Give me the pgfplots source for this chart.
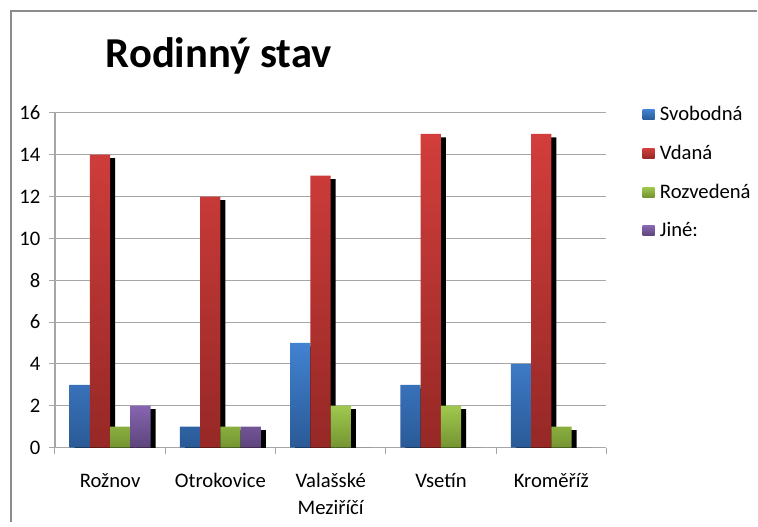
\documentclass[border=0pt]{standalone}
\usepackage{fontspec}
\setmainfont{Carlito}
\usepackage{pgfplots}
\pgfplotsset{compat=1.18}

\definecolor{blueT}{RGB}{66,130,210}
\definecolor{blueB}{RGB}{42,90,150}
\definecolor{redT}{RGB}{210,62,60}
\definecolor{redB}{RGB}{150,40,38}
\definecolor{greenT}{RGB}{160,200,78}
\definecolor{greenB}{RGB}{116,148,50}
\definecolor{purT}{RGB}{134,102,176}
\definecolor{purB}{RGB}{92,68,124}
\definecolor{gridgray}{RGB}{166,166,166}
\definecolor{framegray}{RGB}{140,140,140}

\begin{document}
\begin{tikzpicture}
\path (0pt,0pt) rectangle (568.5pt,391.5pt);
\draw[framegray, line width=1.1pt] (8.25pt,0pt) -- (8.25pt,383.25pt) -- (568.5pt,383.25pt);
\node[anchor=base, font=\bfseries\fontsize{32}{38}\selectfont, inner sep=0pt] at (164.25pt,340.5pt) {Rodinný stav};
\begin{axis}[
  at={(41.25pt,55.5pt)}, anchor=south west,
  scale only axis, width=414pt, height=251.25pt,
  xmin=-0.5, xmax=4.5, ymin=0, ymax=16,
  ytick={0,2,...,16},
  xtick={0,1,2,3,4},
  xticklabels={Rožnov, Otrokovice, {\begin{tabular}[t]{@{}c@{}}Valašské\\Meziříčí\end{tabular}}, Vsetín, Kroměříž},
  xticklabel style={anchor=base, yshift=-25.5pt},
  yticklabel style={xshift=-3pt},
  minor xtick={-0.5,0.5,1.5,2.5,3.5,4.5},
  major x tick style={draw=none},
  tick align=outside,
  major tick length=4.5pt, minor tick length=5pt,
  tick style={gridgray, line width=0.75pt},
  separate axis lines,
  axis x line*=bottom, axis y line*=left,
  axis line style={gridgray, line width=0.9pt, -},
  ymajorgrids, grid style={gridgray, line width=0.75pt},
  ticklabel style={font=\fontsize{15.5}{20}\selectfont},
  /pgf/number format/assume math mode=true,
  legend style={at={(1,1)}, anchor=north west, xshift=27pt, yshift=7pt, draw=none, fill=none,
    font=\fontsize{15.5}{18}\selectfont, row sep=12.8pt, inner sep=0pt},
  legend cell align=left,
  legend image code/.code={\path (0pt,0pt) -- (11pt,0pt); \path[#1] (0pt,-3.75pt) rectangle (9pt,3.75pt);},
]
% shadows
\addplot[ybar, bar width=15.2pt, bar shift=-19.05pt, fill=black, draw=none, yshift=-2.6pt, forget plot]
  coordinates {(0,3) (1,1) (2,5) (3,3) (4,4)};
\addplot[ybar, bar width=15.2pt, bar shift=-3.85pt, fill=black, draw=none, yshift=-2.6pt, forget plot]
  coordinates {(0,14) (1,12) (2,13) (3,15) (4,15)};
\addplot[ybar, bar width=15.2pt, bar shift=11.35pt, fill=black, draw=none, yshift=-2.6pt, forget plot]
  coordinates {(0,1) (1,1) (2,2) (3,2) (4,1)};
\addplot[ybar, bar width=15.2pt, bar shift=26.55pt, fill=black, draw=none, yshift=-2.6pt, forget plot]
  coordinates {(0,2) (1,1) (2,0) (3,0) (4,0)};
% bars
\addplot[ybar, bar width=15.2pt, bar shift=-22.8pt, top color=blueT, bottom color=blueB, draw=none]
  coordinates {(0,3) (1,1) (2,5) (3,3) (4,4)};
\addlegendentry{Svobodná}
\addplot[ybar, bar width=15.2pt, bar shift=-7.6pt, top color=redT, bottom color=redB, draw=none]
  coordinates {(0,14) (1,12) (2,13) (3,15) (4,15)};
\addlegendentry{Vdaná}
\addplot[ybar, bar width=15.2pt, bar shift=7.6pt, top color=greenT, bottom color=greenB, draw=none]
  coordinates {(0,1) (1,1) (2,2) (3,2) (4,1)};
\addlegendentry{Rozvedená}
\addplot[ybar, bar width=15.2pt, bar shift=22.8pt, top color=purT, bottom color=purB, draw=none]
  coordinates {(0,2) (1,1) (2,0) (3,0) (4,0)};
\addlegendentry{Jiné:}
\end{axis}
\end{tikzpicture}
\end{document}
